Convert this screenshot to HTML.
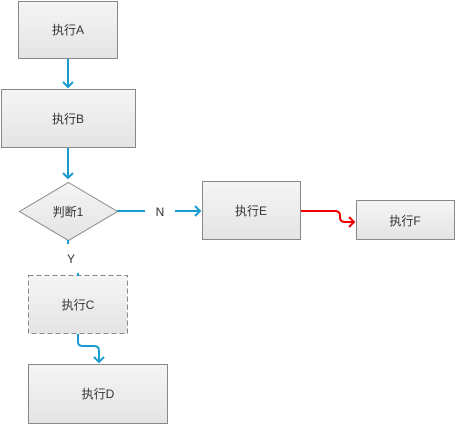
<!DOCTYPE html>
<html><head><style>body{margin:0;background:#fff}</style></head><body>
<svg width="456" height="424" xmlns="http://www.w3.org/2000/svg" font-family="Liberation Sans, Noto Sans CJK SC, sans-serif" font-size="12" fill="#333">
<defs><linearGradient id="g" x1="0" y1="0" x2="0" y2="1"><stop offset="0" stop-color="#f5f5f5"/><stop offset="1" stop-color="#e4e4e4"/></linearGradient></defs>
<g stroke="#888" stroke-width="1" fill="url(#g)">
<rect x="18.5" y="1.5" width="99" height="57"/>
<rect x="1.5" y="89.5" width="134" height="58"/>
<polygon points="68.5,182.5 117.5,211.5 68.5,240.5 19.5,211.5"/>
<rect x="28.5" y="275.5" width="99" height="58" stroke-dasharray="5,3"/>
<rect x="28.5" y="364.5" width="139" height="59"/>
<rect x="202.5" y="181.5" width="98" height="58"/>
<rect x="356.5" y="200.5" width="98" height="39"/>
</g>
<g stroke="#1a9bd0" stroke-width="2" fill="none">
<path d="M68 59V87M63 82l5 5 5-5"/>
<path d="M68 148V178M63 173l5 5 5-5"/>
<path d="M117 211H145M175 211H200M195 206l5 5-5 5"/>
<path d="M68 240V244M78 334V342q0 4 5 4h11q5 0 5 5V362M94 357l5 5 5-5"/>
<path d="M78 273V276" />
</g>
<path d="M301 211H335q5 0 5 5v1q0 5 5 5H354M349 217l5 5-5 5" stroke="#e00" stroke-width="2" fill="none"/>
<g text-anchor="middle">
<text x="68" y="34">执行A</text>
<text x="68" y="123">执行B</text>
<text x="68" y="216">判断1</text>
<text x="78" y="309">执行C</text>
<text x="98" y="398">执行D</text>
<text x="251" y="215">执行E</text>
<text x="405" y="225">执行F</text>
<text x="160" y="216">N</text>
<text x="71" y="263">Y</text>
</g>
</svg>
</body></html>
